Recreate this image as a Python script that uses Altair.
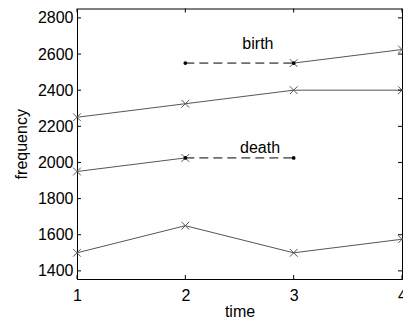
import altair as alt
import pandas as pd

# ---- data ----
time_a = [1, 2, 3, 4]
freq_a = [2250, 2325, 2400, 2400]
time_b = [1, 2]
freq_b = [1950, 2025]
time_c = [3, 4]
freq_c = [2550, 2625]
time_d = [1, 2, 3, 4]
freq_d = [1500, 1650, 1500, 1575]
birth_time = [2, 3]
birth_freq = [2550, 2550]
death_time = [2, 3]
death_freq = [2025, 2025]
label_text = ["birth", "death"]
label_time = [2.67, 2.69]
label_freq = [2655, 2080]
x_ticks = [1, 2, 3, 4]
y_ticks = [1400, 1600, 1800, 2000, 2200, 2400, 2600, 2800]

W, H = 325, 270.5
FONT = "Liberation Sans"

solid = pd.DataFrame(
    [dict(series="a", t=t, f=f) for t, f in zip(time_a, freq_a)]
    + [dict(series="b", t=t, f=f) for t, f in zip(time_b, freq_b)]
    + [dict(series="c", t=t, f=f) for t, f in zip(time_c, freq_c)]
    + [dict(series="d", t=t, f=f) for t, f in zip(time_d, freq_d)]
)
dashed = pd.DataFrame(
    [dict(series="birth", t=t, f=f) for t, f in zip(birth_time, birth_freq)]
    + [dict(series="death", t=t, f=f) for t, f in zip(death_time, death_freq)]
)
labels = pd.DataFrame(dict(text=label_text, t=label_time, f=label_freq))
xt = pd.DataFrame(dict(t=x_ticks))
yt = pd.DataFrame(dict(f=y_ticks))

xs = alt.Scale(domain=[1, 4], nice=False, zero=False)
ys = alt.Scale(domain=[1355, 2852], nice=False, zero=False)

X = alt.X("t:Q", scale=xs, title="time",
          axis=alt.Axis(values=x_ticks, format="d", grid=False, ticks=False,
                        domainColor="black", labelPadding=8, titlePadding=0,
                        labelOverlap=False, labelFlush=False))
Y = alt.Y("f:Q", scale=ys, title="frequency",
          axis=alt.Axis(values=y_ticks, format="d", grid=False, ticks=False,
                        domainColor="black", labelPadding=4, titlePadding=8,
                        labelOverlap=False, labelFlush=False))

lines = alt.Chart(solid).mark_line(color="#555555", strokeWidth=1).encode(
    x=X, y=Y, detail="series:N")
xmark = "M-1,-1L1,1M-1,1L1,-1"
marks = alt.Chart(solid).mark_point(shape=xmark, size=60, color="#555555",
                                    filled=False, strokeWidth=1, opacity=1).encode(
    x=X, y=Y)
dlines = alt.Chart(dashed).mark_line(color="black", strokeWidth=1,
                                     strokeDash=[9, 5]).encode(
    x=X, y=Y, detail="series:N")
dots = alt.Chart(dashed).mark_circle(color="black", size=14, opacity=1).encode(
    x=X, y=Y)
texts = alt.Chart(labels).mark_text(font=FONT, fontSize=16, color="black").encode(
    x=X, y=Y, text="text:N")

tk = 4
xb = alt.Chart(xt).mark_rule(color="black").encode(
    x=X, y=alt.value(H), y2=alt.value(H - tk))
xtop = alt.Chart(xt).mark_rule(color="black").encode(
    x=X, y=alt.value(0), y2=alt.value(tk))
yl = alt.Chart(yt).mark_rule(color="black").encode(
    y=Y, x=alt.value(0), x2=alt.value(tk))
yr = alt.Chart(yt).mark_rule(color="black").encode(
    y=Y, x=alt.value(W), x2=alt.value(W - tk))

chart = alt.layer(lines, dlines, marks, dots, texts, xb, xtop, yl, yr).properties(
    width=W, height=H,
    background="white",
    autosize=alt.AutoSizeParams(type="none"),
    padding={"left": 69, "top": 0.5, "right": 1, "bottom": 40},
).configure_view(stroke="black", strokeWidth=1).configure_axis(
    labelFont=FONT, titleFont=FONT, labelFontSize=16, titleFontSize=16,
    titleFontWeight="normal", labelColor="black", titleColor="black",
    domainWidth=1,
)

chart.save("out.html", embed_options={"renderer": "svg", "actions": False})
